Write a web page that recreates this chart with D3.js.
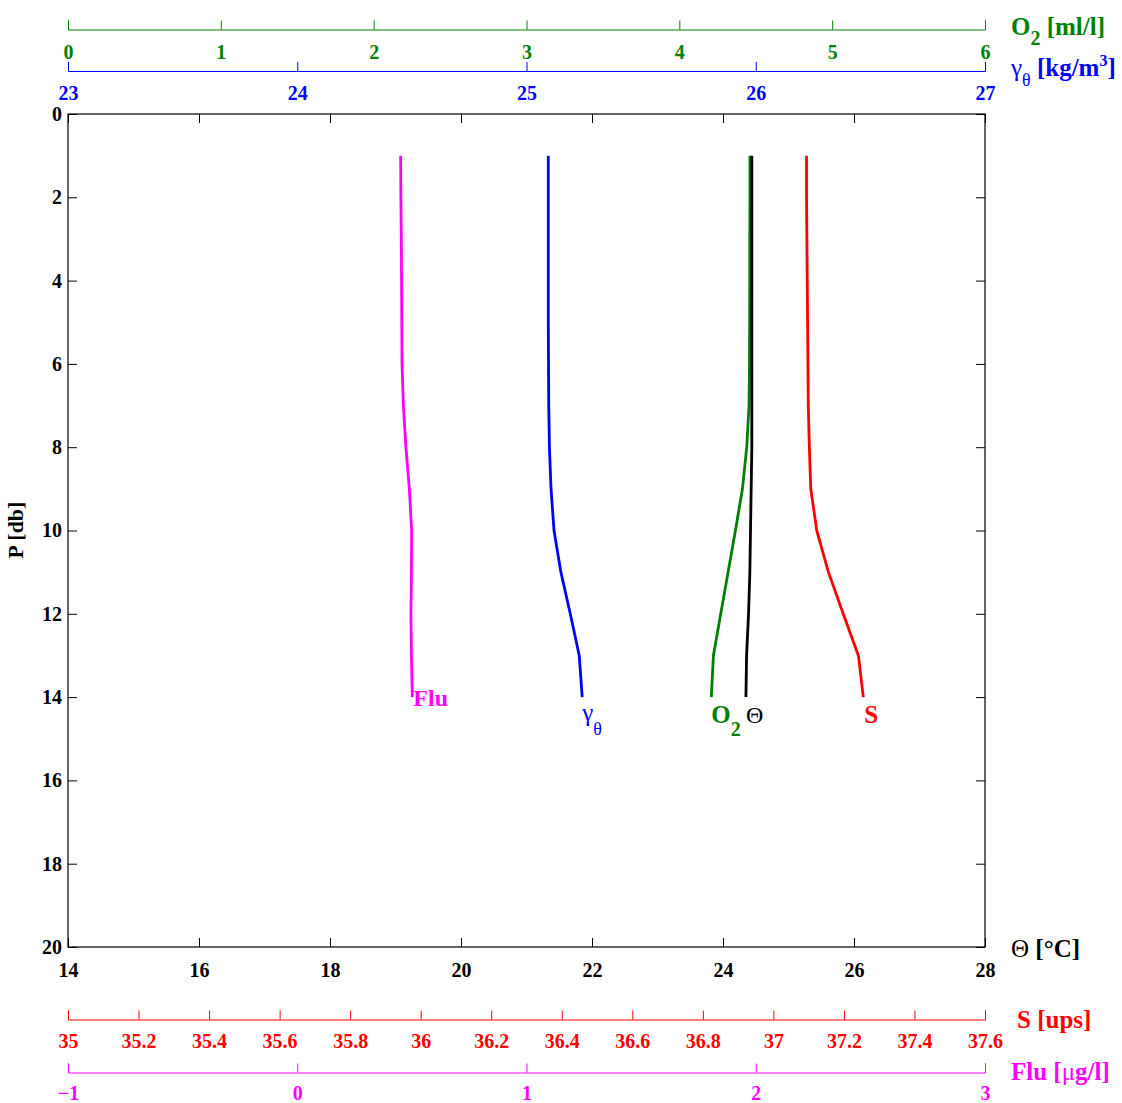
<!DOCTYPE html>
<html>
<head>
<meta charset="utf-8">
<script src="https://cdn.jsdelivr.net/npm/d3@7"></script>
<style>
  html, body { margin: 0; padding: 0; background: #fff; }
  svg { display: block; }
  text { font-family: "Liberation Serif", "Times New Roman", serif; }
</style>
</head>
<body>
<svg id="chart" width="1122" height="1103"></svg>
<script>
// ---------- data ----------
const pressure  = [1, 2, 3, 4, 5, 6, 7, 8, 9, 10, 11, 12, 13, 14];
const theta     = [24.44, 24.44, 24.44, 24.44, 24.44, 24.44, 24.44, 24.44, 24.43, 24.42, 24.41, 24.39, 24.36, 24.35];
const salinity  = [37.094, 37.094, 37.095, 37.096, 37.097, 37.098, 37.099, 37.102, 37.106, 37.123, 37.156, 37.198, 37.241, 37.255];
const oxygen    = [4.462, 4.462, 4.461, 4.461, 4.460, 4.459, 4.456, 4.441, 4.413, 4.367, 4.319, 4.271, 4.223, 4.209];
const gammaT    = [25.095, 25.095, 25.095, 25.095, 25.095, 25.096, 25.097, 25.100, 25.107, 25.120, 25.150, 25.191, 25.230, 25.243];
const fluor     = [0.451, 0.452, 0.454, 0.455, 0.456, 0.457, 0.463, 0.474, 0.489, 0.499, 0.498, 0.496, 0.498, 0.502];

const pTicks     = [0, 2, 4, 6, 8, 10, 12, 14, 16, 18, 20];
const thetaTicks = [14, 16, 18, 20, 22, 24, 26, 28];
const sTicks     = [35, 35.2, 35.4, 35.6, 35.8, 36, 36.2, 36.4, 36.6, 36.8, 37, 37.2, 37.4, 37.6];
const fluTicks   = [-1, 0, 1, 2, 3];
const o2Ticks    = [0, 1, 2, 3, 4, 5, 6];
const gammaTicks = [23, 24, 25, 26, 27];

// ---------- layout ----------
const X0 = 68, X1 = 985, Y0 = 114, Y1 = 947;
const svg = d3.select("#chart");

const yP     = d3.scaleLinear().domain([0, 20]).range([Y0, Y1]);
const xTheta = d3.scaleLinear().domain([14, 28]).range([X0, X1]);
const xS     = d3.scaleLinear().domain([35, 37.6]).range([X0, X1]);
const xFlu   = d3.scaleLinear().domain([-1, 3]).range([X0, X1]);
const xO2    = d3.scaleLinear().domain([0, 6]).range([X0, X1]);
const xGam   = d3.scaleLinear().domain([23, 27]).range([X0, X1]);

const GREEN = "#008000", BLUE = "#0000ff", RED = "#ff0000", MAG = "#ff00ff";

function styleAxis(g, color, size) {
  g.selectAll("path, line").attr("stroke", color);
  g.selectAll("text")
    .attr("fill", color)
    .style("font-size", size + "px")
    .style("font-weight", "bold")
    .style("font-family", '"Liberation Serif", "Times New Roman", serif');
}
const minusFmt = d => (d < 0 ? "\u2212" + Math.abs(d) : String(d));

// ---------- main box ----------
svg.append("rect")
  .attr("x", X0).attr("y", Y0)
  .attr("width", X1 - X0).attr("height", Y1 - Y0)
  .attr("fill", "none").attr("stroke", "#000").attr("stroke-width", 1.2);

// bottom Θ axis (ticks inward)
const gB = svg.append("g").attr("transform", `translate(0,${Y1})`)
  .call(d3.axisBottom(xTheta).tickValues(thetaTicks).tickSizeInner(-9).tickSizeOuter(0).tickPadding(16));
gB.select(".domain").remove();
styleAxis(gB, "#000", 20);

// top Θ ticks (no labels)
const gT = svg.append("g").attr("transform", `translate(0,${Y0})`)
  .call(d3.axisTop(xTheta).tickValues(thetaTicks).tickSizeInner(-9).tickSizeOuter(0).tickFormat(""));
gT.select(".domain").remove();
styleAxis(gT, "#000", 20);

// left P axis
const gL = svg.append("g").attr("transform", `translate(${X0},0)`)
  .call(d3.axisLeft(yP).tickValues(pTicks).tickSizeInner(-9).tickSizeOuter(0).tickPadding(6));
gL.select(".domain").remove();
styleAxis(gL, "#000", 20);

// right P ticks
const gR = svg.append("g").attr("transform", `translate(${X1},0)`)
  .call(d3.axisRight(yP).tickValues(pTicks).tickSizeInner(-9).tickSizeOuter(0).tickFormat(""));
gR.select(".domain").remove();
styleAxis(gR, "#000", 20);

// ---------- extra axes ----------
function extraAxis(scale, ticks, y, color, pad, fmt) {
  const g = svg.append("g").attr("transform", `translate(0,${y})`)
    .call(d3.axisBottom(scale).tickValues(ticks).tickSizeInner(-9).tickSizeOuter(-9)
      .tickPadding(pad).tickFormat(fmt || (d => String(d))));
  styleAxis(g, color, 20);
  return g;
}
extraAxis(xO2, o2Ticks, 29.5, GREEN, 15);
extraAxis(xGam, gammaTicks, 71, BLUE, 15);
extraAxis(xS, sTicks, 1019.5, RED, 14);
extraAxis(xFlu, fluTicks, 1072.5, MAG, 13.5, minusFmt);

// ---------- profiles ----------
function profile(values, xs, color) {
  const line = d3.line().x((d, i) => xs(values[i])).y((d, i) => yP(pressure[i]));
  svg.append("path")
    .datum(pressure)
    .attr("d", line)
    .attr("fill", "none")
    .attr("stroke", color)
    .attr("stroke-width", 2.8)
    .attr("stroke-linejoin", "round");
}
profile(fluor, xFlu, MAG);
profile(gammaT, xGam, BLUE);
profile(oxygen, xO2, GREEN);
profile(theta, xTheta, "#000");
profile(salinity, xS, RED);

// ---------- curve labels ----------
const last = pressure.length - 1;
const yEnd = yP(pressure[last]);

svg.append("text").attr("x", xFlu(fluor[last]) + 1).attr("y", yEnd + 9)
  .attr("fill", MAG).style("font-size", "24px").style("font-weight", "bold").text("Flu");

const tg = svg.append("text").attr("x", xGam(gammaT[last])).attr("y", yEnd + 24)
  .attr("fill", BLUE).style("font-size", "25px");
tg.append("tspan").text("γ");
tg.append("tspan").attr("dy", 14).style("font-size", "18px").text("θ");

const to = svg.append("text").attr("x", xO2(oxygen[last])).attr("y", yEnd + 26)
  .attr("fill", GREEN).style("font-size", "25px").style("font-weight", "bold");
to.append("tspan").text("O");
to.append("tspan").attr("dy", 13).style("font-size", "20px").text("2");

svg.append("text").attr("x", xTheta(theta[last])).attr("y", yEnd + 26)
  .attr("fill", "#000").style("font-size", "24px").text("Θ");

svg.append("text").attr("x", xS(salinity[last]) + 1).attr("y", yEnd + 26)
  .attr("fill", RED).style("font-size", "25px").style("font-weight", "bold").text("S");

// ---------- axis titles ----------
const tO2 = svg.append("text").attr("x", 1011).attr("y", 35)
  .attr("fill", GREEN).style("font-size", "25px").style("font-weight", "bold");
tO2.append("tspan").text("O");
tO2.append("tspan").attr("dy", 10).style("font-size", "20px").text("2");
tO2.append("tspan").attr("dy", -10).text(" [ml/l]");

const tGm = svg.append("text").attr("x", 1011).attr("y", 76)
  .attr("fill", BLUE).style("font-size", "25px");
tGm.append("tspan").text("γ");
tGm.append("tspan").attr("dy", 10).style("font-size", "18px").text("θ");
tGm.append("tspan").attr("dy", -10).style("font-weight", "bold").text(" [kg/m");
tGm.append("tspan").attr("dy", -10).style("font-weight", "bold").style("font-size", "16px").text("3");
tGm.append("tspan").attr("dy", 10).style("font-weight", "bold").text("]");

const tTh = svg.append("text").attr("x", 1011).attr("y", 957)
  .attr("fill", "#000").style("font-size", "25px");
tTh.append("tspan").text("Θ");
tTh.append("tspan").style("font-weight", "bold").text(" [°C]");

svg.append("text").attr("x", 1017).attr("y", 1028)
  .attr("fill", RED).style("font-size", "25px").style("font-weight", "bold").text("S [ups]");

const tFl = svg.append("text").attr("x", 1011).attr("y", 1080)
  .attr("fill", MAG).style("font-size", "25px").style("font-weight", "bold");
tFl.append("tspan").text("Flu [");
tFl.append("tspan").style("font-weight", "normal").text("μ");
tFl.append("tspan").text("g/l]");

svg.append("text")
  .attr("transform", "translate(23,530) rotate(-90)")
  .attr("text-anchor", "middle")
  .attr("fill", "#000").style("font-size", "22px").style("font-weight", "bold")
  .text("P [db]");
</script>
</body>
</html>
